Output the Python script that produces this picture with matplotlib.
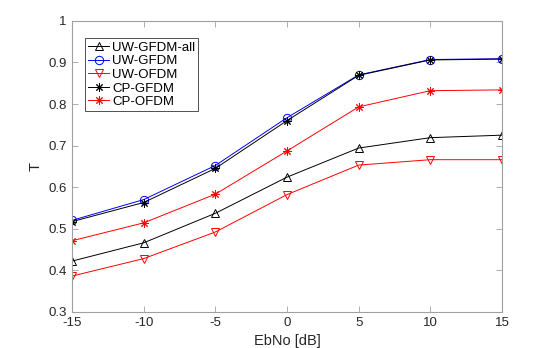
import numpy as np
import matplotlib
matplotlib.use('Agg')
import matplotlib.pyplot as plt

plt.rcParams['font.family'] = ['Liberation Sans', 'DejaVu Sans']

ebno = [-15, -10, -5, 0, 5, 10, 15]

uw_gfdm_all = [0.422, 0.466, 0.537, 0.624, 0.694, 0.719, 0.725]
uw_gfdm = [0.520, 0.570, 0.652, 0.767, 0.870, 0.907, 0.909]
uw_ofdm = [0.386, 0.428, 0.492, 0.582, 0.653, 0.666, 0.666]
cp_gfdm = [0.517, 0.563, 0.645, 0.760, 0.869, 0.906, 0.908]
cp_ofdm = [0.471, 0.514, 0.583, 0.687, 0.793, 0.832, 0.834]

fig = plt.figure(figsize=(5.54, 3.48), dpi=100)
ax = fig.add_axes([0.130, 0.104, 0.776, 0.836])

kw = dict(lw=0.7, markersize=6, markerfacecolor='none')
star = (8, 2, 0)
ax.plot(ebno, uw_gfdm_all, '-^', color='black', label='UW-GFDM-all', markeredgewidth=0.7, **kw)
ax.plot(ebno, uw_gfdm, '-o', color='blue', label='UW-GFDM', markeredgewidth=0.7, **kw)
ax.plot(ebno, uw_ofdm, '-v', color='red', label='UW-OFDM', markeredgewidth=0.7, **kw)
ax.plot(ebno, cp_gfdm, '-', marker=star, color='black', label='CP-GFDM', markeredgewidth=0.7, **kw)
ax.plot(ebno, cp_ofdm, '-', marker=star, color='red', label='CP-OFDM', markeredgewidth=0.7, **kw)

ax.set_xlim(-15, 15)
ax.set_ylim(0.3, 1)
ax.set_xticks(ebno)
ax.set_xticklabels(['-15', '-10', '-5', '0', '5', '10', '15'])
ax.set_yticks([0.3, 0.4, 0.5, 0.6, 0.7, 0.8, 0.9, 1.0])
ax.set_yticklabels(['0.3', '0.4', '0.5', '0.6', '0.7', '0.8', '0.9', '1'])
ax.tick_params(direction='in', length=4, width=0.6, color='#a0a0a0', labelsize=9.5,
               labelcolor='#262626', top=True, right=True, pad=4)
for s in ax.spines.values():
    s.set_color('#a0a0a0')
    s.set_linewidth(0.8)

ax.set_xlabel('EbNo [dB]', fontsize=10.5, color='#262626', labelpad=3)
ax.set_ylabel('T', fontsize=10.5, color='#262626')

leg = ax.legend(loc='upper left', bbox_to_anchor=(0.03, 0.94), fontsize=9.5,
                frameon=True, fancybox=False, handlelength=1.6, handletextpad=0.2,
                labelspacing=0.1, borderpad=0.25, borderaxespad=0)
leg.get_frame().set_edgecolor('black')
leg.get_frame().set_linewidth(0.6)

fig.savefig('out.png', dpi=100)
